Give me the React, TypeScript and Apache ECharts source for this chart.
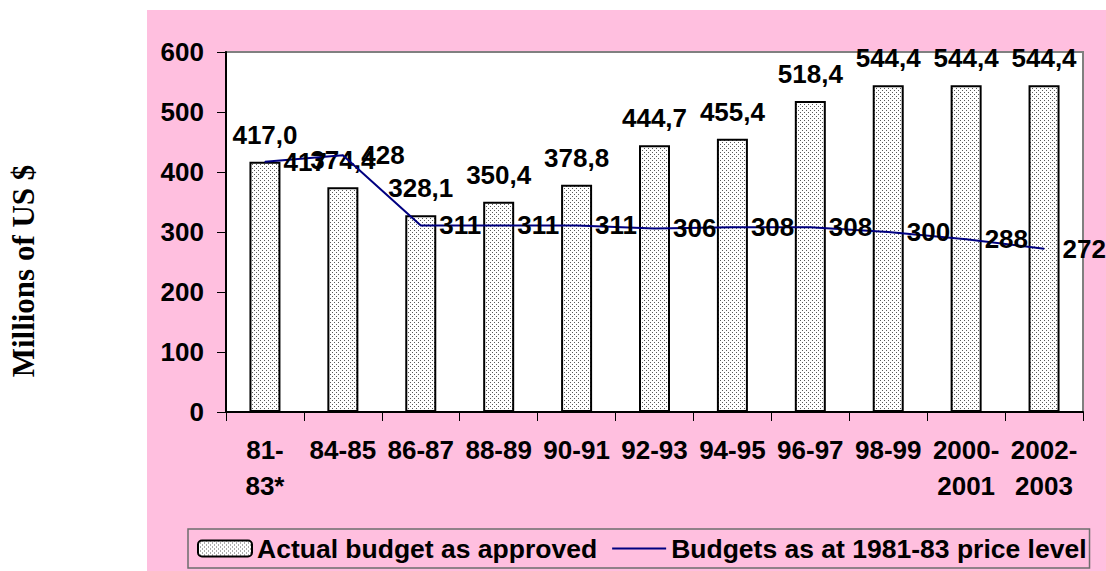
import React, { useEffect, useRef } from "react";
import * as echarts from "echarts";

const categories = ["81-\n83*", "84-85", "86-87", "88-89", "90-91", "92-93", "94-95", "96-97", "98-99", "2000-\n2001", "2002-\n2003"];
const actualBudget = [417.0, 374.4, 328.1, 350.4, 378.8, 444.7, 455.4, 518.4, 544.4, 544.4, 544.4];
const constantBudget = [417, 428, 311, 311, 311, 306, 308, 308, 300, 288, 272];
const yTicks = { min: 0, max: 600, interval: 100 };

const FONT = "Arial, 'Liberation Sans', sans-serif";
const FS = 26;

function makeDots(): string {
  const c = document.createElement("canvas");
  c.width = 4;
  c.height = 4;
  const ctx = c.getContext("2d")!;
  ctx.fillStyle = "#ffffff";
  ctx.fillRect(0, 0, 4, 4);
  ctx.fillStyle = "#5a5a5a";
  ctx.fillRect(0, 0, 1, 1);
  ctx.fillRect(2, 2, 1, 1);
  return c.toDataURL();
}

export default function App() {
  const ref = useRef<HTMLDivElement>(null);
  useEffect(() => {
    if (!ref.current) return;
    const chart = echarts.init(ref.current, undefined, { renderer: "svg" });
    const dots = makeDots();
    chart.setOption({
      animation: false,
      backgroundColor: "#ffffff",
      graphic: [
        {
          type: "rect",
          z: -10,
          silent: true,
          shape: { x: 147, y: 10, width: 959, height: 561 },
          style: { fill: "#FFBFDF" },
        },
        {
          type: "text",
          x: 23,
          y: 271,
          rotation: Math.PI / 2,
          style: {
            text: "Millions of US $",
            font: "bold 31px 'Times New Roman', 'Liberation Serif', serif",
            fill: "#000",
            align: "center",
            verticalAlign: "middle",
          },
        },
      ],
      grid: {
        left: 226,
        right: 23,
        top: 52,
        bottom: 159,
        show: true,
        backgroundColor: "#ffffff",
        borderColor: "#808080",
        borderWidth: 2,
      },
      legend: {
        left: 188,
        top: 529,
        orient: "horizontal",
        itemWidth: 54,
        itemHeight: 16,
        itemGap: 15,
        padding: [6, 3, 6, 9],
        borderColor: "#6e6e6e",
        borderWidth: 1.5,
        textStyle: { fontFamily: FONT, fontWeight: "bold", fontSize: 26.5, color: "#000" },
        data: [
          { name: "Actual budget as approved" },
          {
            name: "Budgets as at 1981-83 price level",
            icon: "path://M0,0 L55,0 L55,2 L0,2 Z",
            itemStyle: { color: "#000080" },
          },
        ],
      },
      xAxis: {
        type: "category",
        data: categories,
        boundaryGap: true,
        axisLine: { lineStyle: { color: "#000", width: 2 } },
        axisTick: { show: true, length: 9, lineStyle: { color: "#000", width: 1 } },
        axisLabel: {
          interval: 0,
          margin: 20,
          fontFamily: FONT,
          fontWeight: "bold",
          fontSize: FS,
          color: "#000",
          lineHeight: 36,
        },
      },
      yAxis: {
        type: "value",
        min: yTicks.min,
        max: yTicks.max,
        interval: yTicks.interval,
        axisLine: { show: true, lineStyle: { color: "#000", width: 2 } },
        axisTick: { show: true, length: 9, lineStyle: { color: "#000", width: 1 } },
        splitLine: { show: false },
        axisLabel: {
          margin: 22,
          fontFamily: FONT,
          fontWeight: "bold",
          fontSize: FS,
          color: "#000",
        },
      },
      series: [
        {
          name: "Actual budget as approved",
          type: "bar",
          data: actualBudget,
          barWidth: 31,
          z: 2,
          itemStyle: {
            color: { image: dots, repeat: "repeat" } as any,
            borderColor: "#000",
            borderWidth: 2,
          },
          label: {
            show: true,
            position: "top",
            distance: 14,
            fontFamily: FONT,
            fontWeight: "bold",
            fontSize: FS,
            color: "#000",
            formatter: (p: any) => Number(p.value).toFixed(1).replace(".", ","),
          },
        },
        {
          name: "Budgets as at 1981-83 price level",
          type: "line",
          data: constantBudget,
          symbol: "circle",
          symbolSize: 1,
          z: 3,
          lineStyle: { color: "#000080", width: 2 },
          itemStyle: { color: "#000080" },
          label: {
            show: true,
            position: "right",
            distance: 18,
            fontFamily: FONT,
            fontWeight: "bold",
            fontSize: FS,
            color: "#000",
            formatter: (p: any) => String(p.value),
          },
        },
      ],
    });
    return () => chart.dispose();
  }, []);
  return (
    <div
      ref={ref}
      style={{ position: "absolute", left: 0, top: 0, width: 1106, height: 571 }}
    />
  );
}
